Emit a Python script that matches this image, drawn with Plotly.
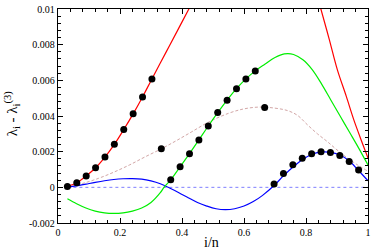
import plotly.graph_objects as go

# ---------------- data ----------------
# dots on red curve (i = 1..10, n = 33)
red_dot_x = [0.0303, 0.0606, 0.0909, 0.1212, 0.1515, 0.1818, 0.2121, 0.2424, 0.2727, 0.3030]
red_dot_y = [0.00005, 0.00026, 0.00064, 0.00110, 0.00170, 0.00241, 0.00324, 0.00412, 0.00507, 0.00608]
# dots on green curve (i = 12..21)
green_dot_x = [0.3636, 0.3939, 0.4242, 0.4545, 0.4848, 0.5152, 0.5455, 0.5758, 0.6061, 0.6364]
green_dot_y = [0.00042, 0.00115, 0.00189, 0.00266, 0.00344, 0.00419, 0.00489, 0.00553, 0.00608, 0.00653]
# dots on dashed curve (i = 11, 22)
brown_dot_x = [0.3333, 0.6667]
brown_dot_y = [0.00217, 0.00448]
# dots on blue curve (i = 23..32)
blue_dot_x = [0.6970, 0.7273, 0.7576, 0.7879, 0.8182, 0.8485, 0.8788, 0.9091, 0.9394, 0.9697]
blue_dot_y = [0.00019, 0.00077, 0.00126, 0.00163, 0.00189, 0.00200, 0.00196, 0.00179, 0.00145, 0.00097]

# red curve (two visible branches)
red_x = [0.0303, 0.0606, 0.0909, 0.1212, 0.1515, 0.1818, 0.2121, 0.2424, 0.2727, 0.3030,
         0.33, 0.36, 0.39, 0.42, 0.45, None,
         0.82, 0.848, 0.875, 0.901, 0.93, 0.954, 0.977, 1.0]
red_y = [0.00005, 0.00026, 0.00064, 0.00110, 0.00170, 0.00241, 0.00324, 0.00412, 0.00507, 0.00608,
         0.00697, 0.00795, 0.00894, 0.00993, 0.0109, None,
         0.0118, 0.0100, 0.0083, 0.0066, 0.0051, 0.0038, 0.0027, 0.00165]

green_x = [0.0303, 0.06, 0.09, 0.12, 0.15, 0.18, 0.21, 0.24, 0.27, 0.30, 0.33, 0.342,
           0.3636, 0.3939, 0.4242, 0.4545, 0.4848, 0.5152, 0.5455, 0.5758, 0.6061, 0.6364,
           0.667, 0.70, 0.73, 0.76, 0.79, 0.82, 0.85, 0.88, 0.91, 0.94, 0.97, 1.0]
green_y = [-0.00064, -0.00092, -0.00116, -0.00133, -0.00143, -0.00146, -0.00143, -0.00133, -0.00116, -0.00085, -0.00030, 0.0,
           0.00042, 0.00115, 0.00189, 0.00266, 0.00344, 0.00419, 0.00489, 0.00553, 0.00608, 0.00653,
           0.00690, 0.00728, 0.00748, 0.00745, 0.00715, 0.00660, 0.00580, 0.00490, 0.00400, 0.00310, 0.00220, 0.00125]

blue_x = [0.0303, 0.06, 0.09, 0.12, 0.15, 0.18, 0.21, 0.24, 0.27, 0.30, 0.33, 0.36, 0.39, 0.42,
          0.45, 0.48, 0.51, 0.54, 0.57, 0.60, 0.63, 0.66, 0.697, 0.727, 0.758, 0.788, 0.818,
          0.848, 0.879, 0.909, 0.939, 0.970, 1.0]
blue_y = [0.0, 0.00008, 0.00018, 0.00028, 0.00037, 0.00044, 0.00048, 0.00049, 0.00046, 0.00036, 0.00020, -0.00004, -0.00030, -0.00058,
          -0.00085, -0.00105, -0.00120, -0.00125, -0.00120, -0.00105, -0.00080, -0.00045, 0.00010, 0.00064, 0.00114, 0.00155, 0.00184,
          0.00197, 0.00196, 0.00181, 0.00149, 0.00093, 0.00037]

brown_x = [0.0303, 0.08, 0.13, 0.18, 0.23, 0.28, 0.3333, 0.38, 0.43, 0.486, 0.55, 0.60, 0.65, 0.70,
           0.741, 0.773, 0.805, 0.837, 0.869, 0.90, 0.933, 0.967, 1.0]
brown_y = [0.0, 0.00022, 0.00050, 0.00085, 0.00125, 0.00170, 0.00216, 0.00260, 0.00310, 0.00366, 0.00415, 0.00440, 0.00450, 0.00444,
           0.00430, 0.00403, 0.00350, 0.00300, 0.00256, 0.00210, 0.00165, 0.00125, 0.00090]

zero_x = [0.0303, 1.0]
zero_y = [0.0, 0.0]

x_ticks = [0, 0.2, 0.4, 0.6, 0.8, 1]
x_ticktext = ["0", "0.2", "0.4", "0.6", "0.8", "1"]
y_ticks = [-0.002, 0, 0.002, 0.004, 0.006, 0.008, 0.01]
y_ticktext = ["-0.002", "0", "0.002", "0.004", "0.006", "0.008", "0.01"]

# ---------------- figure ----------------
FONT = "Liberation Serif, Times New Roman, serif"
fig = go.Figure()

fig.add_trace(go.Scatter(x=zero_x, y=zero_y, mode="lines",
                         line=dict(color="#7f7fff", width=1, dash="dot")))
fig.add_trace(go.Scatter(x=brown_x, y=brown_y, mode="lines", line_shape="spline",
                         line=dict(color="#d2a6a6", width=1, dash="3px,2px")))
fig.add_trace(go.Scatter(x=blue_x, y=blue_y, mode="lines", line_shape="spline",
                         line=dict(color="#0000ff", width=1.2)))
fig.add_trace(go.Scatter(x=green_x, y=green_y, mode="lines", line_shape="spline",
                         line=dict(color="#00ee00", width=1.2)))
fig.add_trace(go.Scatter(x=red_x, y=red_y, mode="lines", line_shape="spline", connectgaps=False,
                         line=dict(color="#ff0000", width=1.2)))

for dx, dy in [(red_dot_x, red_dot_y), (green_dot_x, green_dot_y),
               (brown_dot_x, brown_dot_y), (blue_dot_x, blue_dot_y)]:
    fig.add_trace(go.Scatter(x=dx, y=dy, mode="markers",
                             marker=dict(color="black", size=7, line=dict(width=0))))

axis_common = dict(showline=True, linecolor="black", linewidth=1.3, mirror="ticks",
                   ticks="inside", ticklen=5, tickwidth=1, tickcolor="black",
                   showgrid=False, zeroline=False, ticklabeloverflow="allow",
                   tickfont=dict(family=FONT, size=10, color="black"))

fig.update_xaxes(range=[0, 1], tickmode="array", tickvals=x_ticks, ticktext=x_ticktext,
                 minor=dict(tickmode="linear", tick0=0, dtick=0.04, ticks="inside",
                            ticklen=3, tickcolor="black", showgrid=False),
                 **axis_common)
fig.update_yaxes(range=[-0.002, 0.01], tickmode="array", tickvals=y_ticks, ticktext=y_ticktext,
                 minor=dict(tickmode="linear", tick0=0, dtick=0.0004, ticks="inside",
                            ticklen=3, tickcolor="black", showgrid=False),
                 **axis_common)

fig.add_annotation(text="i/n", xref="paper", yref="paper", x=0.495, y=-0.09,
                   showarrow=False, xanchor="center", yanchor="middle",
                   font=dict(family=FONT, size=14, color="black"))
fig.add_annotation(text="λ<sub>i</sub> - λ<sub>i</sub><sup>(3)</sup>", xref="paper", yref="paper",
                   x=-0.15, y=0.51, textangle=-90, showarrow=False,
                   xanchor="center", yanchor="middle",
                   font=dict(family=FONT, size=15, color="black"))

fig.update_layout(width=374, height=249, showlegend=False,
                  margin=dict(l=58, r=3, t=4, b=26),
                  paper_bgcolor="white", plot_bgcolor="white",
                  font=dict(family=FONT, color="black"))

fig.write_html("out.html", config={"displayModeBar": False},
               post_script="document.body.style.margin='0';document.body.style.overflow='hidden';")
